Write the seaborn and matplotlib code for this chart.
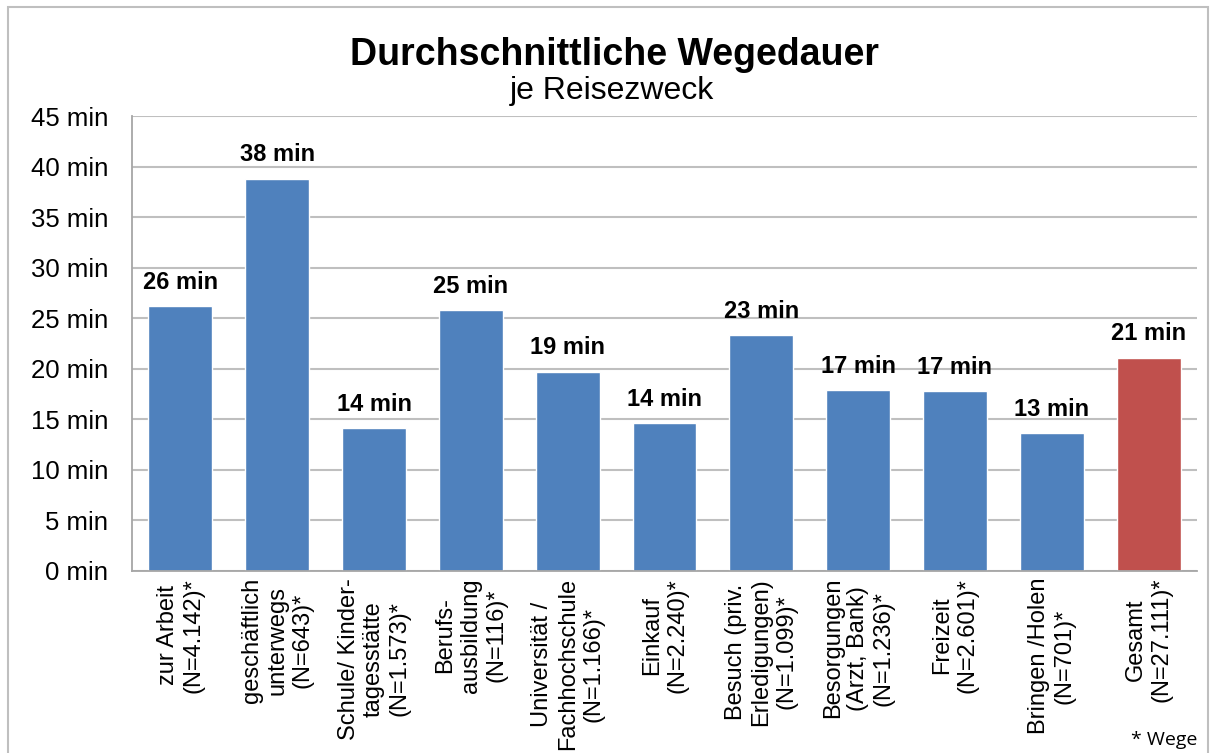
import matplotlib
matplotlib.use("Agg")
import matplotlib.pyplot as plt
import seaborn as sns
import pandas as pd
from matplotlib.patches import Rectangle

# Daten: durchschnittliche Wegedauer je Reisezweck (Minuten)
zwecke = [
    "zur Arbeit\n(N=4.142)*",
    "geschäftlich\nunterwegs\n(N=643)*",
    "Schule/ Kinder-\ntagesstätte\n(N=1.573)*",
    "Berufs-\nausbildung\n(N=116)*",
    "Universität /\nFachhochschule\n(N=1.166)*",
    "Einkauf\n(N=2.240)*",
    "Besuch (priv.\nErledigungen)\n(N=1.099)*",
    "Besorgungen\n(Arzt, Bank)\n(N=1.236)*",
    "Freizeit\n(N=2.601)*",
    "Bringen /Holen\n(N=701)*",
    "Gesamt\n(N=27.111)*",
]
dauer = [26.2, 38.8, 14.1, 25.8, 19.7, 14.6, 23.3, 17.9, 17.8, 13.6, 21.1]
y_ticks = [0, 5, 10, 15, 20, 25, 30, 35, 40, 45]

blau = "#4F81BD"
rot = "#C0504D"
farben = [blau] * (len(zwecke) - 1) + [rot]

df = pd.DataFrame({"zweck": zwecke, "dauer": dauer})

sns.set_style("white")
plt.rcParams["font.family"] = ["Liberation Sans", "DejaVu Sans"]
plt.rcParams["text.color"] = "black"
plt.rcParams["xtick.color"] = "black"
plt.rcParams["ytick.color"] = "black"

fig = plt.figure(figsize=(12.14, 7.53), dpi=100)
ax = fig.add_axes([132 / 1214, 182 / 753, 1065 / 1214, 455 / 753])

sns.barplot(data=df, x="zweck", y="dauer", hue="zweck", palette=farben,
            legend=False, width=0.66, saturation=1, ax=ax)

# Beschriftung über den Balken
for cont in ax.containers:
    werte = [f"{int(b.get_height())} min" for b in cont]
    ax.bar_label(cont, labels=werte, padding=9, fontsize=17,
                 fontweight="bold", color="black")

ax.set_xlim(-0.5, len(zwecke) - 0.5)
ax.set_ylim(0, 45)
ax.set_yticks(y_ticks)
ax.set_yticklabels([f"{v} min" for v in y_ticks], fontsize=18.5)
ax.tick_params(axis="y", length=0, pad=17, labelcolor="black")
ax.set_xlabel("")
ax.set_ylabel("")

ax.set_xticks(range(len(zwecke)))
ax.set_xticklabels(zwecke, rotation=90, fontsize=17, ha="center", va="top",
                   multialignment="center", linespacing=1.2)
ax.set_xticks([i - 0.5 for i in range(len(zwecke) + 1)], minor=True)
ax.tick_params(axis="x", which="major", length=0, pad=5, labelcolor="black")
ax.tick_params(axis="x", which="minor", length=6, width=1.3, color="#A6A6A6")

ax.yaxis.grid(True, color="#BFBFBF", linewidth=1.5)
ax.set_axisbelow(True)
for s in ["top", "right"]:
    ax.spines[s].set_visible(False)
for s in ["left", "bottom"]:
    ax.spines[s].set_color("#A6A6A6")
    ax.spines[s].set_linewidth(1.3)

fig.text(615 / 1214, 1 - 65 / 753, "Durchschnittliche Wegedauer", ha="center",
         va="baseline", fontsize=27, fontweight="bold")
fig.text(612 / 1214, 1 - 99 / 753, "je Reisezweck", ha="center",
         va="baseline", fontsize=23)
fig.text(1197 / 1214, 1 - 745 / 753, "* Wege", ha="right", va="baseline",
         fontsize=14, family=["Open Sans", "DejaVu Sans"])

# Rahmen um das Diagramm
fig.patches.append(Rectangle((8 / 1214, -0.05), 1200 / 1214, 1.05 - 7 / 753,
                             transform=fig.transFigure, fill=False,
                             edgecolor="#BFBFBF", linewidth=1.5))

fig.savefig("out.png", dpi=100)
